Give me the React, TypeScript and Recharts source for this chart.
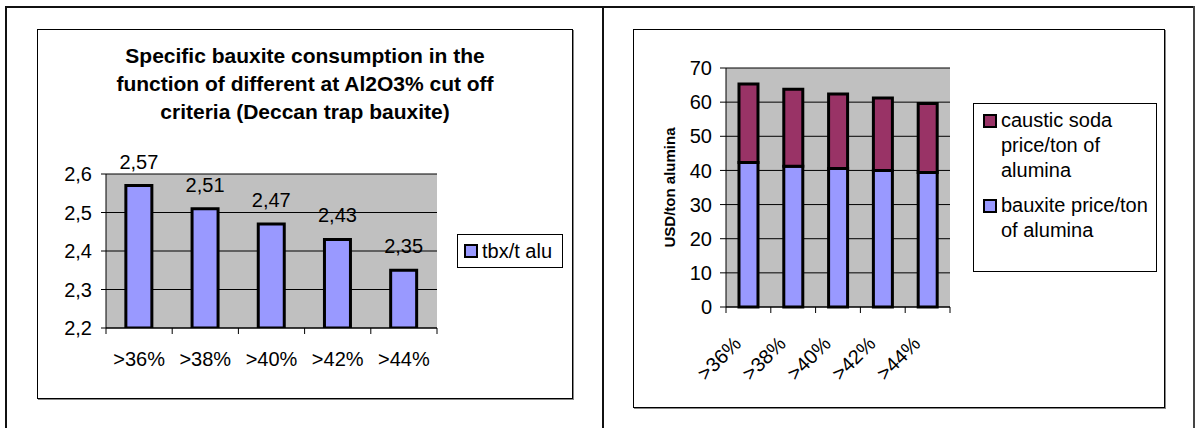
import React from 'react';
import { BarChart, Bar, XAxis, YAxis, CartesianGrid, LabelList, Legend } from 'recharts';

const FONT = '"Liberation Sans", Arial, sans-serif';

// ---- data ----
const cutoffs = ['>36%', '>38%', '>40%', '>42%', '>44%'];
const tbxPerTAlu = [2.57, 2.51, 2.47, 2.43, 2.35];
const leftTicks = [2.2, 2.3, 2.4, 2.5, 2.6];
const bauxitePrice = [42.3, 41.2, 40.6, 40.0, 39.4];
const causticPrice = [23.0, 22.6, 21.8, 21.2, 20.2];
const rightTicks = [0, 10, 20, 30, 40, 50, 60, 70];
const titleLines = [
  'Specific bauxite consumption in the',
  'function of different at Al2O3% cut off',
  'criteria (Deccan trap bauxite)',
];
const leftSeriesName = 'tbx/t alu';
const bauxiteName = 'bauxite price/ton of alumina';
const causticName = 'caustic soda price/ton of alumina';
const yAxisTitle = 'USD/ton alumina';

const leftData = cutoffs.map((c, i) => ({ cat: c, tbx: tbxPerTAlu[i] }));
const rightData = cutoffs.map((c, i) => ({ cat: c, bauxite: bauxitePrice[i], caustic: causticPrice[i] }));

const comma = (v: any) => String(v).replace('.', ',');

const LeftXTick = (props: any) => {
  const { x, y, payload, index } = props;
  const off = payload?.offset ?? 0;
  const last = index === cutoffs.length - 1;
  return (
    <g>
      <line x1={x - off} y1={y - 6} x2={x - off} y2={y} stroke="#000" />
      {last && <line x1={x + off} y1={y - 6} x2={x + off} y2={y} stroke="#000" />}
      <text x={x} y={y + 18} dy="0.71em" textAnchor="middle" fontSize={20} fontFamily={FONT} fill="#000">
        {payload.value}
      </text>
    </g>
  );
};

const RightXTick = (props: any) => {
  const { x, y, payload, index } = props;
  const off = payload?.offset ?? 0;
  const last = index === cutoffs.length - 1;
  const tx = x - 6;
  const ty = y + 32;
  return (
    <g>
      <line x1={x - off} y1={y - 6} x2={x - off} y2={y} stroke="#000" />
      {last && <line x1={x + off} y1={y - 6} x2={x + off} y2={y} stroke="#000" />}
      <text x={tx} y={ty} transform={`rotate(-45 ${tx} ${ty})`} textAnchor="end" fontSize={20} fontFamily={FONT} fill="#000">
        {payload.value}
      </text>
    </g>
  );
};

const YTitle = (props: any) => {
  const vb = props.viewBox || { x: 0, y: 39, width: 93, height: 239 };
  const cx = vb.x + 36;
  const cy = vb.y + vb.height / 2;
  return (
    <text x={cx} y={cy} transform={`rotate(-90 ${cx} ${cy})`} textAnchor="middle" dominantBaseline="central" fontWeight="bold" fontSize={15} fontFamily={FONT} fill="#000">
      {yAxisTitle}
    </text>
  );
};

const Swatch = ({ color }: { color: string }) => (
  <span style={{ display: 'inline-block', width: 14, height: 14, boxSizing: 'border-box', background: color, border: '2px solid #000', flex: '0 0 auto' }} />
);

const LeftLegend = (props: any) => {
  const items = props.payload ?? [];
  return (
    <div style={{ width: 106, height: 34, boxSizing: 'border-box', border: '1px solid #000', background: '#fff', display: 'flex', alignItems: 'center', paddingLeft: 6 }}>
      {items.map((it: any) => (
        <div key={it.value} style={{ display: 'flex', alignItems: 'center' }}>
          <Swatch color={it.color} />
          <span style={{ marginLeft: 4, fontSize: 20, fontFamily: FONT, color: '#000', lineHeight: '22px' }}>{it.value}</span>
        </div>
      ))}
    </div>
  );
};

const RightLegend = (props: any) => {
  const items = [...(props.payload ?? [])].reverse();
  return (
    <div style={{ width: 184, height: 169, boxSizing: 'border-box', border: '1px solid #000', background: '#fff', paddingTop: 4, paddingLeft: 9 }}>
      {items.map((it: any, i: number) => (
        <div key={it.value} style={{ display: 'flex', alignItems: 'flex-start', marginTop: i === 0 ? 0 : 10 }}>
          <span style={{ marginTop: 6 }}><Swatch color={it.color} /></span>
          <span style={{ marginLeft: 4, width: 152, fontSize: 20, fontFamily: FONT, color: '#000', lineHeight: '25px' }}>{it.value}</span>
        </div>
      ))}
    </div>
  );
};

const BoxBorder = () => (
  <div style={{ position: 'absolute', inset: 0, border: '1px solid #000', boxShadow: '1px 1px 0 #888', boxSizing: 'border-box', pointerEvents: 'none' }} />
);

export default function App() {
  return (
    <div style={{ position: 'absolute', left: 0, top: 0, width: 1196, height: 428, background: '#fff', overflow: 'hidden', fontFamily: FONT }}>
      {/* page frame */}
      <div style={{ position: 'absolute', left: 5, top: 6, width: 1190, height: 2, background: '#111' }} />
      <div style={{ position: 'absolute', left: 5, top: 6, width: 2, height: 422, background: '#111' }} />
      <div style={{ position: 'absolute', left: 602, top: 6, width: 2, height: 422, background: '#111' }} />
      <div style={{ position: 'absolute', left: 1193, top: 6, width: 2, height: 422, background: '#444' }} />

      {/* left chart */}
      <div style={{ position: 'absolute', left: 37, top: 29, width: 536, height: 370, background: '#fff' }}>
        <BarChart width={536} height={370} data={leftData} margin={{ top: 145, right: 136, bottom: 21, left: 0 }} barCategoryGap="30%">
          <CartesianGrid vertical={false} stroke="#000" fill="#C0C0C0" fillOpacity={1} />
          <XAxis dataKey="cat" height={50} interval={0} tickLine={false} tickSize={6} tickMargin={0} axisLine={{ stroke: '#000' }} tick={<LeftXTick />} />
          <XAxis xAxisId="top" dataKey="cat" orientation="top" height={0} tick={false} tickLine={false} axisLine={{ stroke: '#808080', strokeWidth: 2 }} />
          <YAxis domain={[2.2, 2.6]} ticks={leftTicks} interval={0} width={69} tickSize={5} tickMargin={9} tickFormatter={comma}
            tick={{ fill: '#000', fontSize: 20, fontFamily: FONT }} tickLine={{ stroke: '#000' }} axisLine={{ stroke: '#000' }} allowDataOverflow />
          <YAxis yAxisId="r" orientation="right" domain={[2.2, 2.6]} width={0} tick={false} tickLine={false} axisLine={{ stroke: '#808080', strokeWidth: 2 }} />
          <Bar dataKey="tbx" name={leftSeriesName} fill="#9999FF" stroke="#000" strokeWidth={3} isAnimationActive={false}>
            <LabelList dataKey="tbx" position="top" offset={17} formatter={comma} fill="#000" fontSize={20} fontFamily={FONT} />
          </Bar>
          <Legend layout="horizontal" verticalAlign="middle" align="center" content={<LeftLegend />}
            wrapperStyle={{ position: 'absolute', left: 420, top: 205, width: 106, height: 34 }} />
        </BarChart>
        <div style={{ position: 'absolute', left: 0, top: 13, width: 536, textAlign: 'center', fontWeight: 'bold', fontSize: 21, lineHeight: '28px', color: '#000' }}>
          {titleLines.map((l) => (
            <div key={l}>{l}</div>
          ))}
        </div>
        <BoxBorder />
      </div>

      {/* right chart */}
      <div style={{ position: 'absolute', left: 633, top: 29, width: 532, height: 379, background: '#fff' }}>
        <BarChart width={532} height={379} data={rightData} margin={{ top: 39, right: 215, bottom: 21, left: 0 }} barCategoryGap="29%">
          <CartesianGrid vertical={false} stroke="#000" fill="#C0C0C0" fillOpacity={1} />
          <XAxis dataKey="cat" height={80} interval={0} tickLine={false} tickSize={6} tickMargin={0} axisLine={{ stroke: '#000' }} tick={<RightXTick />} />
          <XAxis xAxisId="top" dataKey="cat" orientation="top" height={0} tick={false} tickLine={false} axisLine={{ stroke: '#808080', strokeWidth: 2 }} />
          <YAxis domain={[0, 70]} ticks={rightTicks} interval={0} width={93} tickSize={6} tickMargin={8}
            tick={{ fill: '#000', fontSize: 20, fontFamily: FONT }} tickLine={{ stroke: '#000' }} axisLine={{ stroke: '#000' }} label={YTitle} />
          <YAxis yAxisId="r" orientation="right" domain={[0, 70]} width={0} tick={false} tickLine={false} axisLine={{ stroke: '#808080', strokeWidth: 2 }} />
          <Bar dataKey="bauxite" stackId="a" name={bauxiteName} fill="#9999FF" stroke="#000" strokeWidth={3} isAnimationActive={false} />
          <Bar dataKey="caustic" stackId="a" name={causticName} fill="#993366" stroke="#000" strokeWidth={3} isAnimationActive={false} />
          <Legend layout="horizontal" verticalAlign="middle" align="center" content={<RightLegend />}
            wrapperStyle={{ position: 'absolute', left: 340, top: 74, width: 184, height: 169 }} />
        </BarChart>
        <BoxBorder />
      </div>
    </div>
  );
}
